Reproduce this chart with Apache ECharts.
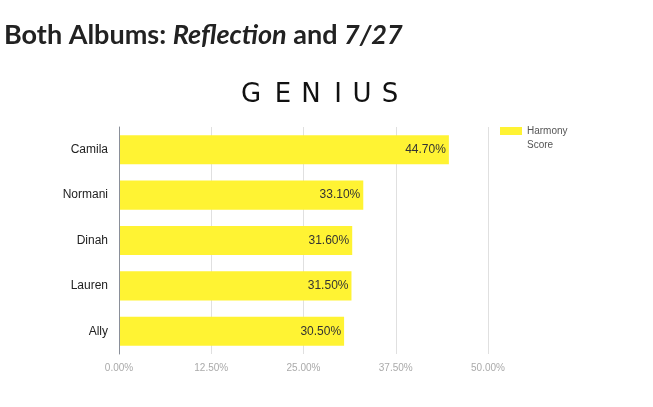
<!DOCTYPE html>
<html><head><meta charset="utf-8">
<script src="https://cdn.jsdelivr.net/npm/echarts@6/dist/echarts.min.js"></script>
<style>html,body{margin:0;padding:0;background:#fff}#c{width:653px;height:407px}</style>
</head><body><div id="c"></div>
<script>
var categories = ['Camila', 'Normani', 'Dinah', 'Lauren', 'Ally'];
var harmonyScore = [44.7, 33.1, 31.6, 31.5, 30.5];
var tickValues = [0, 12.5, 25, 37.5, 50];
var seriesName = 'Harmony Score';
var logoLetters = ['G', 'E', 'N', 'I', 'U', 'S'];

var chart = echarts.init(document.getElementById('c'), null, {renderer: 'canvas'});
var logoX = [251, 283, 311, 338, 362, 390];
chart.setOption({
  backgroundColor: '#fff',
  animation: false,
  title: [{
    left: 4, top: 22, padding: 0,
    text: '{b|Both Albums: }{i|Reflection}{b| and }{i|7/27}',
    textStyle: {
      rich: {
        b: {fontFamily: 'Lato', fontWeight: 'bold', fontSize: 27, color: '#222'},
        i: {fontFamily: 'Lato', fontWeight: 'bold', fontStyle: 'italic', fontSize: 27, color: '#222'}
      }
    }
  }],
  graphic: logoLetters.map(function (ch, i) {
    return {
      type: 'text', x: logoX[i], y: 95,
      style: {text: ch, fontFamily: 'DejaVu Sans', fontWeight: 'normal', fontSize: 26,
        fill: '#111', align: 'center', verticalAlign: 'middle'}
    };
  }).concat([{
    type: 'text', x: 527, y: 145,
    style: {text: 'Score', fontFamily: 'Arial, Liberation Sans', fontSize: 10, fill: '#555',
      align: 'left', verticalAlign: 'middle'}
  }]),
  legend: {
    left: 500, top: 124, padding: 0, orient: 'vertical',
    itemWidth: 22, itemHeight: 8, itemGap: 6,
    icon: 'rect',
    formatter: function () { return 'Harmony'; },
    textStyle: {fontFamily: 'Arial, Liberation Sans', fontSize: 10, color: '#555', lineHeight: 14},
    data: [seriesName]
  },
  grid: {left: 119, right: 165, top: 127, height: 227, containLabel: false},
  xAxis: {
    type: 'value', min: 0, max: 50, interval: 12.5,
    axisLine: {show: false}, axisTick: {show: false},
    splitLine: {show: true, lineStyle: {color: '#e0e0e0'}},
    axisLabel: {
      margin: 9, fontFamily: 'Arial, Liberation Sans', fontSize: 10, color: '#aaa',
      formatter: function (v) { return v.toFixed(2) + '%'; }
    }
  },
  yAxis: {
    type: 'category', data: categories, inverse: true, z: 5,
    axisLine: {show: true, lineStyle: {color: '#8a8f99'}},
    axisTick: {show: false},
    axisLabel: {margin: 11, fontFamily: 'Arial, Liberation Sans', fontSize: 12, color: '#222'}
  },
  series: [{
    name: seriesName, type: 'bar', data: harmonyScore, barWidth: '64%',
    itemStyle: {color: '#fff333'},
    label: {
      show: true, position: 'insideRight', distance: 3,
      fontFamily: 'Arial, Liberation Sans', fontSize: 12, color: '#333',
      formatter: function (p) { return p.value.toFixed(2) + '%'; }
    }
  }]
});
</script></body></html>
